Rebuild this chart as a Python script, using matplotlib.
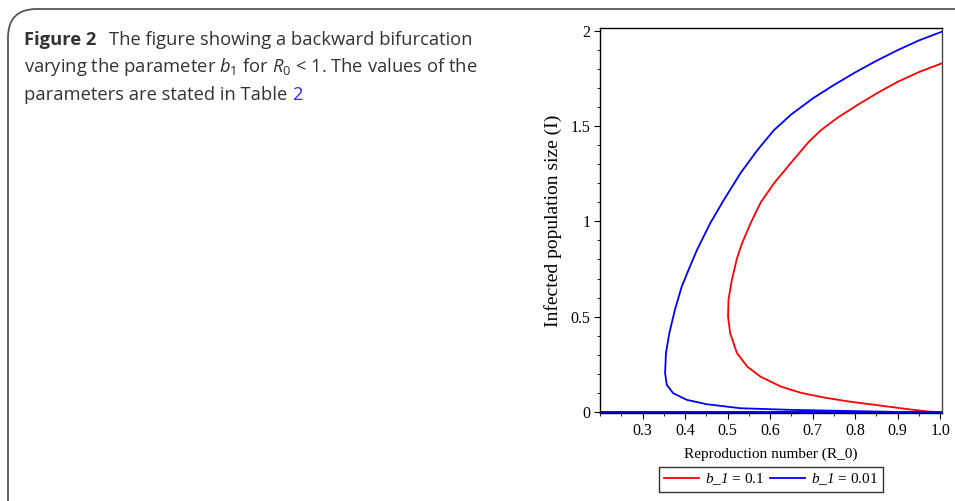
import matplotlib.pyplot as plt
from matplotlib.patches import FancyBboxPatch

# values
blue_r0 = [1.003, 0.950, 0.900, 0.850, 0.800, 0.750, 0.700, 0.650, 0.609, 0.570,
           0.530, 0.491, 0.459, 0.428, 0.410, 0.392, 0.376, 0.363, 0.355, 0.353,
           0.357, 0.372, 0.404, 0.451, 0.530, 0.648, 0.845, 0.890]
blue_i = [1.995, 1.950, 1.899, 1.843, 1.782, 1.716, 1.645, 1.562, 1.479, 1.374,
          1.252, 1.112, 0.990, 0.850, 0.755, 0.657, 0.535, 0.413, 0.308, 0.203,
          0.142, 0.098, 0.063, 0.040, 0.019, 0.0105, 0.002, 0.0]
red_r0 = [1.003, 0.950, 0.900, 0.853, 0.806, 0.759, 0.719, 0.691, 0.648, 0.609,
          0.578, 0.554, 0.534, 0.522, 0.510, 0.502, 0.501, 0.506, 0.522, 0.546,
          0.577, 0.625, 0.672, 0.727, 0.786, 0.845, 0.924, 0.971, 0.985]
red_i = [1.829, 1.784, 1.733, 1.675, 1.612, 1.545, 1.478, 1.418, 1.305, 1.200,
         1.100, 0.990, 0.885, 0.806, 0.693, 0.588, 0.500, 0.413, 0.308, 0.238,
         0.185, 0.133, 0.100, 0.075, 0.054, 0.037, 0.014, 0.002, 0.0]
dfe_r0 = [0.2, 1.003]
dfe_i = [0.0, 0.0]
xticks = [0.3, 0.4, 0.5, 0.6, 0.7, 0.8, 0.9, 1.0]
xticklabels = ['0.3', '0.4', '0.5', '0.6', '0.7', '0.8', '0.9', '1.0']
yticks = [0, 0.5, 1, 1.5, 2]
yticklabels = ['0', '0.5', '1', '1.5', '2']

plt.rcParams['mathtext.fontset'] = 'custom'
plt.rcParams['mathtext.rm'] = 'Open Sans'
plt.rcParams['mathtext.it'] = 'Open Sans:italic'
plt.rcParams['mathtext.sf'] = 'Liberation Serif:italic'

W, H = 955, 501
fig = plt.figure(figsize=(9.55, 5.01), dpi=100)

# panel border (rounded, runs off right/bottom)
box = FancyBboxPatch((8 / W, -0.2), 1.2, 1 - 9 / H + 0.2,
                     boxstyle='round,pad=0,rounding_size=0.03',
                     transform=fig.transFigure, fill=False,
                     edgecolor='#555555', linewidth=1.3, mutation_aspect=W / H)
fig.patches.append(box)

cap_kw = dict(fontsize=13.2, color='#333333', family='Open Sans', va='baseline')
fig.text(24 / W, 1 - 45 / H, 'Figure 2', fontweight='bold', **cap_kw)
fig.text(109 / W, 1 - 45 / H, 'The figure showing a backward bifurcation', **cap_kw)
fig.text(24 / W, 1 - 72.5 / H,
         r'varying the parameter $b_1$ for $R_0$ < 1. The values of the', **cap_kw)
t = fig.text(24 / W, 1 - 100 / H, 'parameters are stated in Table ', **cap_kw)
fig.canvas.draw()
bb = t.get_window_extent()
fig.text(bb.x1 / W, 1 - 100 / H, '2', fontsize=13.2, color='#2b2bff',
         family='Open Sans', va='baseline')

ax = fig.add_axes([600 / W, 1 - 413 / H, 342 / W, 385 / H])
ax.plot(dfe_r0, dfe_i, color='#ff0000', lw=1.3)
ax.plot(red_r0, red_i, color='#ff0000', lw=1.3, label=r'$\mathsf{b\_1}$ = 0.1')
ax.plot(blue_r0, blue_i, color='#0000ff', lw=1.3, label=r'$\mathsf{b\_1}$ = 0.01')
ax.plot(dfe_r0, dfe_i, color='#0000ff', lw=2.0)

ax.set_xlim(0.2, 1.004)
ax.set_ylim(-0.006, 2.015)
ax.set_xticks(xticks)
ax.set_xticklabels(xticklabels)
ax.set_yticks(yticks)
ax.set_yticklabels(yticklabels)
ax.set_xticks([0.2 + 0.05 * k for k in range(17) if k % 2 == 1 or k == 0], minor=True)
ax.set_yticks([0.1 * k for k in range(21) if k % 5 != 0], minor=True)
ax.tick_params(which='both', direction='out', top=False, right=False,
               labelsize=11.5, labelfontfamily='Liberation Serif')
ax.tick_params(which='major', length=4, width=0.8, pad=3)
ax.tick_params(which='minor', length=2.5, width=0.6)
for s in ax.spines.values():
    s.set_linewidth(1.0)
ax.spines['right'].set_color('#444444')

ax.set_xlabel('Reproduction number (R_0)', family='Liberation Serif', fontsize=11,
              labelpad=6)
ax.set_ylabel('Infected population size (I)', family='Liberation Serif', fontsize=14,
              labelpad=6)

leg = ax.legend(loc='upper center', bbox_to_anchor=(0.5, -0.14), ncol=2,
                frameon=True, fancybox=False, edgecolor='black',
                prop={'family': 'Liberation Serif', 'size': 11},
                handlelength=2.3, handletextpad=0.4, columnspacing=0.4,
                borderpad=0.3, borderaxespad=0)
leg.get_frame().set_linewidth(1.0)

fig.savefig('out.png', dpi=100)
